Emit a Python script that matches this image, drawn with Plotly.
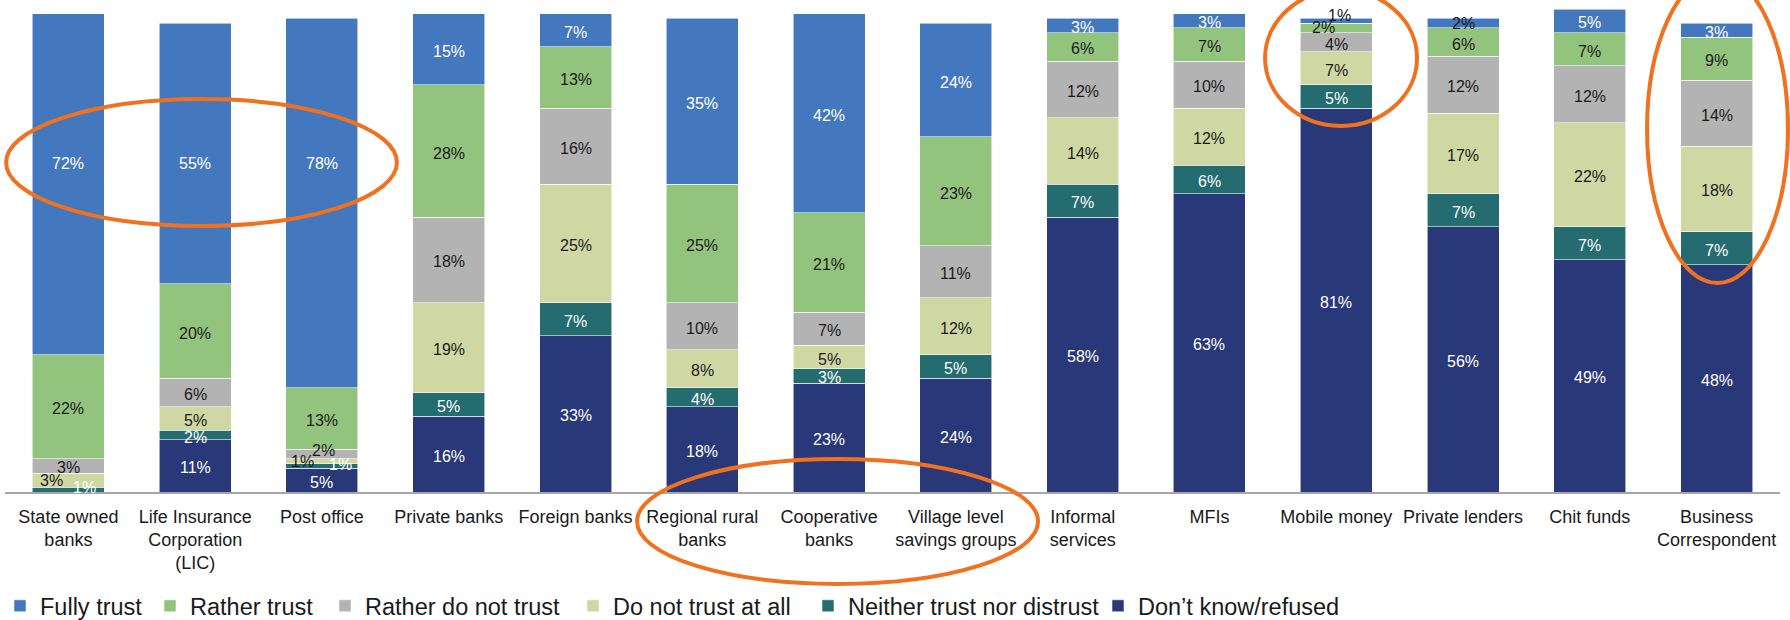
import plotly.graph_objects as go

categories = ["State owned banks", "Life Insurance Corporation (LIC)", "Post office",
              "Private banks", "Foreign banks", "Regional rural banks", "Cooperative banks",
              "Village level savings groups", "Informal services", "MFIs", "Mobile money",
              "Private lenders", "Chit funds", "Business Correspondent"]
tick_labels = ["State owned<br>banks", "Life Insurance<br>Corporation<br>(LIC)", "Post office",
               "Private banks", "Foreign banks", "Regional rural<br>banks", "Cooperative<br>banks",
               "Village level<br>savings groups", "Informal<br>services", "MFIs", "Mobile money",
               "Private lenders", "Chit funds", "Business<br>Correspondent"]

fully_trust = [72, 55, 78, 15, 7, 35, 42, 24, 3, 3, 1, 2, 5, 3]
rather_trust = [22, 20, 13, 28, 13, 25, 21, 23, 6, 7, 2, 6, 7, 9]
rather_not_trust = [3, 6, 2, 18, 16, 10, 7, 11, 12, 10, 4, 12, 12, 14]
not_trust_at_all = [3, 5, 1, 19, 25, 8, 5, 12, 14, 12, 7, 17, 22, 18]
neither = [1, 2, 1, 5, 7, 4, 3, 5, 7, 6, 5, 7, 7, 7]
dont_know = [0, 11, 5, 16, 33, 18, 23, 24, 58, 63, 81, 56, 49, 48]

# stacked bottom -> top : (name, values, colour, label colour, legend id, legend x px)
series = [
    ("Don\u2019t know/refused", dont_know, "#283879", "white", "legend6", 1098),
    ("Neither trust nor distrust", neither, "#246C70", "white", "legend5", 808),
    ("Do not trust at all", not_trust_at_all, "#CFD8A3", "#1a1a1a", "legend4", 573),
    ("Rather do not trust", rather_not_trust, "#B3B3B3", "#1a1a1a", "legend3", 325),
    ("Rather trust", rather_trust, "#93C47D", "#1a1a1a", "legend2", 150),
    ("Fully trust", fully_trust, "#4378BF", "white", "legend", 0),
]

# label nudges (pixels) for crowded / moved labels: (category index, series name) -> (dx, dy, color)
nudges = {
    (0, "Fully trust"): (0, 21, None),
    (1, "Fully trust"): (0, -10, None),
    (2, "Fully trust"): (0, 40, None),
    (0, "Do not trust at all"): (-17, 0, None),
    (0, "Neither trust nor distrust"): (16, 2, None),
    (2, "Rather do not trust"): (2, 4, None),
    (2, "Do not trust at all"): (-19, 0, None),
    (2, "Neither trust nor distrust"): (19, 1, None),
    (10, "Rather trust"): (-13, 0, None),
    (10, "Fully trust"): (3, 5, "#1a1a1a"),
    (11, "Fully trust"): (0, 0, "#1a1a1a"),
}

LABEL_FONT = "Arial, Liberation Sans, sans-serif"
fig = go.Figure()
annotations = []
legends = {}
base = [0] * len(categories)
for name, vals, color, tcolor, leg, legx in series:
    fig.add_trace(go.Bar(
        name=name, x=categories, y=vals, marker_color=color,
        marker_line=dict(color="rgba(255,255,255,0.7)", width=0.8),
        legend=leg, hoverinfo="x+y+name",
    ))
    legends[leg] = dict(orientation="h", xref="container", yref="container",
                        x=legx / 1790, y=(620 - 606) / 620,
                        xanchor="left", yanchor="middle",
                        font=dict(size=23.5, color="#1a1a1a", family=LABEL_FONT),
                        bgcolor="rgba(0,0,0,0)")
    for i, v in enumerate(vals):
        if v > 0:
            dx, dy, c = nudges.get((i, name), (0, -2, None))
            annotations.append(dict(
                x=categories[i], y=base[i] + v / 2, xref="x", yref="y",
                text=f"{v}%", showarrow=False, xshift=dx, yshift=dy,
                font=dict(family=LABEL_FONT, size=16, color=c if c else tcolor),
            ))
        base[i] += v

orange = "#F0711F"
ellipses = [
    (0.0006, 0.5407, 0.2208, 0.7988),
    (0.7099, 0.7439, 0.7955, 1.0203),
    (0.9251, 0.4248, 1.0045, 1.0508),
    (0.3561, -0.187, 0.5820, 0.0671),
]
shapes = [dict(type="circle", xref="paper", yref="paper", x0=a, y0=b, x1=c, y1=d,
               line=dict(color=orange, width=4), layer="above")
          for a, b, c, d in ellipses]

fig.update_layout(
    barmode="stack",
    bargap=0.432,
    width=1790, height=620,
    margin=dict(l=5, r=10, t=0, b=128),
    paper_bgcolor="white", plot_bgcolor="white",
    font=dict(family=LABEL_FONT, color="#1a1a1a"),
    showlegend=True,
    annotations=annotations,
    shapes=shapes,
    **legends,
)
fig.update_xaxes(
    tickmode="array", tickvals=categories, ticktext=tick_labels,
    tickfont=dict(size=18, color="#1a1a1a"),
    showline=True, linecolor="#A6A6A6", linewidth=2,
    ticks="outside", ticklen=7, tickcolor="rgba(0,0,0,0)",
    range=[-0.5, 13.5], showgrid=False, zeroline=False,
)
fig.update_yaxes(range=[0, 103.9], visible=False, showgrid=False, zeroline=False)

fig.write_html("out.html")
